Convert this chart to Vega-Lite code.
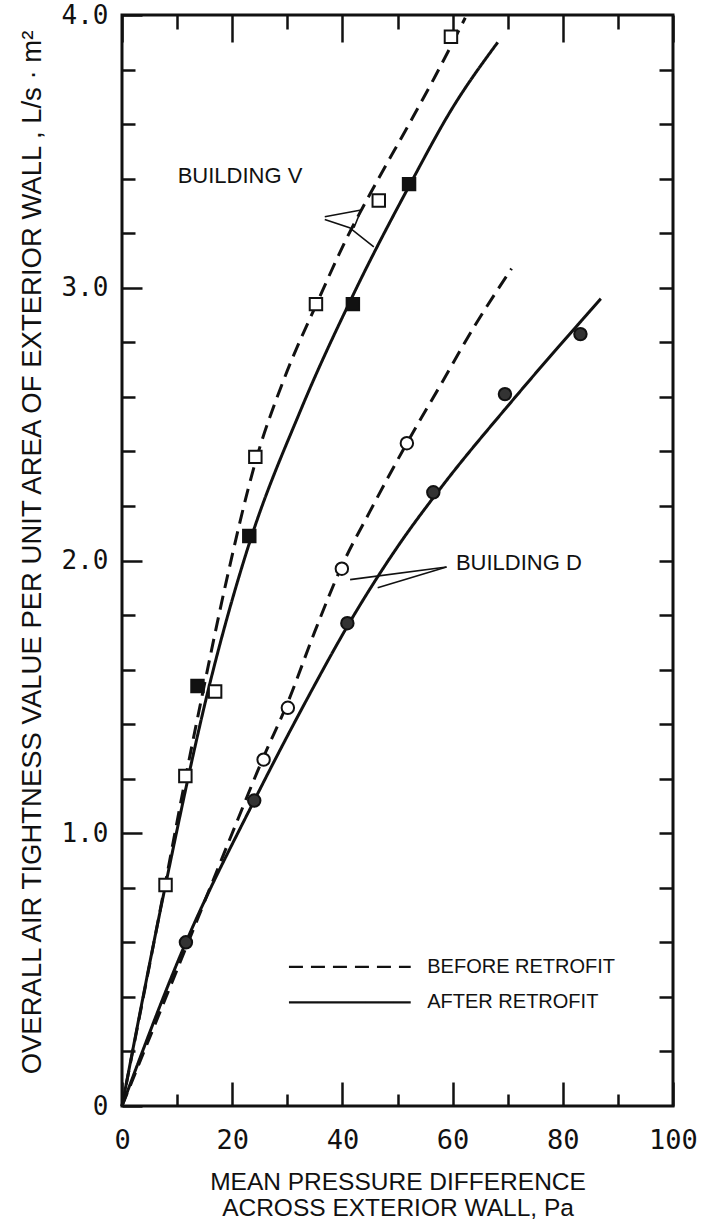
{
  "$schema": "https://vega.github.io/schema/vega-lite/v6.json",
  "width": 551,
  "height": 1091,
  "autosize": {"type": "none"},
  "padding": {"left": 122, "top": 15, "right": 34, "bottom": 116},
  "background": "white",
  "config": {
    "view": {"stroke": "#111", "strokeWidth": 3},
    "axis": {"domain": false, "grid": false, "tickColor": "#111", "tickWidth": 2.5, "labelColor": "#111", "titleColor": "#111"}
  },
  "datasets": {
    "curves": [
      {"curve": "V before", "stage": "before", "x": 0, "y": 0},
      {"curve": "V before", "stage": "before", "x": 7.9, "y": 0.82},
      {"curve": "V before", "stage": "before", "x": 11.5, "y": 1.2},
      {"curve": "V before", "stage": "before", "x": 14.7, "y": 1.52},
      {"curve": "V before", "stage": "before", "x": 19, "y": 1.93},
      {"curve": "V before", "stage": "before", "x": 24.2, "y": 2.36},
      {"curve": "V before", "stage": "before", "x": 29.5, "y": 2.67},
      {"curve": "V before", "stage": "before", "x": 35.3, "y": 2.94},
      {"curve": "V before", "stage": "before", "x": 40.5, "y": 3.17},
      {"curve": "V before", "stage": "before", "x": 46, "y": 3.38},
      {"curve": "V before", "stage": "before", "x": 52.1, "y": 3.6},
      {"curve": "V before", "stage": "before", "x": 56.7, "y": 3.77},
      {"curve": "V before", "stage": "before", "x": 62.3, "y": 3.99},
      {"curve": "V after", "stage": "after", "x": 0, "y": 0},
      {"curve": "V after", "stage": "after", "x": 7.9, "y": 0.81},
      {"curve": "V after", "stage": "after", "x": 16.2, "y": 1.57},
      {"curve": "V after", "stage": "after", "x": 22.9, "y": 2.05},
      {"curve": "V after", "stage": "after", "x": 32.4, "y": 2.55},
      {"curve": "V after", "stage": "after", "x": 42.1, "y": 2.98},
      {"curve": "V after", "stage": "after", "x": 52.3, "y": 3.38},
      {"curve": "V after", "stage": "after", "x": 60, "y": 3.66},
      {"curve": "V after", "stage": "after", "x": 68.2, "y": 3.9},
      {"curve": "D before", "stage": "before", "x": 0, "y": 0},
      {"curve": "D before", "stage": "before", "x": 12, "y": 0.6},
      {"curve": "D before", "stage": "before", "x": 20, "y": 1.0},
      {"curve": "D before", "stage": "before", "x": 25.7, "y": 1.28},
      {"curve": "D before", "stage": "before", "x": 30.1, "y": 1.48},
      {"curve": "D before", "stage": "before", "x": 35, "y": 1.74},
      {"curve": "D before", "stage": "before", "x": 39.9, "y": 1.98},
      {"curve": "D before", "stage": "before", "x": 45, "y": 2.18},
      {"curve": "D before", "stage": "before", "x": 51.7, "y": 2.43},
      {"curve": "D before", "stage": "before", "x": 58, "y": 2.65},
      {"curve": "D before", "stage": "before", "x": 64, "y": 2.86},
      {"curve": "D before", "stage": "before", "x": 70.7, "y": 3.07},
      {"curve": "D after", "stage": "after", "x": 0, "y": 0},
      {"curve": "D after", "stage": "after", "x": 11.6, "y": 0.6},
      {"curve": "D after", "stage": "after", "x": 24, "y": 1.12},
      {"curve": "D after", "stage": "after", "x": 33, "y": 1.47},
      {"curve": "D after", "stage": "after", "x": 42.4, "y": 1.81},
      {"curve": "D after", "stage": "after", "x": 50, "y": 2.05},
      {"curve": "D after", "stage": "after", "x": 58, "y": 2.27},
      {"curve": "D after", "stage": "after", "x": 71, "y": 2.59},
      {"curve": "D after", "stage": "after", "x": 86.9, "y": 2.96}
    ],
    "points": [
      {"series": "V before", "x": 7.9, "y": 0.81},
      {"series": "V before", "x": 11.5, "y": 1.21},
      {"series": "V before", "x": 16.9, "y": 1.52},
      {"series": "V before", "x": 24.2, "y": 2.38},
      {"series": "V before", "x": 35.2, "y": 2.94},
      {"series": "V before", "x": 46.6, "y": 3.32},
      {"series": "V before", "x": 59.7, "y": 3.92},
      {"series": "V after", "x": 13.7, "y": 1.54},
      {"series": "V after", "x": 23.1, "y": 2.09},
      {"series": "V after", "x": 41.9, "y": 2.94},
      {"series": "V after", "x": 52.1, "y": 3.38},
      {"series": "D before", "x": 25.7, "y": 1.27},
      {"series": "D before", "x": 30.1, "y": 1.46},
      {"series": "D before", "x": 39.9, "y": 1.97},
      {"series": "D before", "x": 51.7, "y": 2.43},
      {"series": "D after", "x": 11.6, "y": 0.6},
      {"series": "D after", "x": 24.0, "y": 1.12},
      {"series": "D after", "x": 40.9, "y": 1.77},
      {"series": "D after", "x": 56.5, "y": 2.25},
      {"series": "D after", "x": 69.5, "y": 2.61},
      {"series": "D after", "x": 83.2, "y": 2.83}
    ],
    "leaders": [
      {"leader": "V1", "o": 1, "x": 36.8, "y": 3.26},
      {"leader": "V1", "o": 2, "x": 43.4, "y": 3.285},
      {"leader": "V1", "o": 3, "x": 42.1, "y": 3.22},
      {"leader": "V2", "o": 1, "x": 36.8, "y": 3.25},
      {"leader": "V2", "o": 2, "x": 41.3, "y": 3.22},
      {"leader": "V2", "o": 3, "x": 45.7, "y": 3.15},
      {"leader": "D1", "o": 1, "x": 58.9, "y": 1.976},
      {"leader": "D1", "o": 2, "x": 41.4, "y": 1.93},
      {"leader": "D2", "o": 1, "x": 58.9, "y": 1.976},
      {"leader": "D2", "o": 2, "x": 46.4, "y": 1.9}
    ],
    "labels": [
      {"text": "BUILDING V", "x": 10.1, "y": 3.41},
      {"text": "BUILDING D", "x": 60.6, "y": 1.99}
    ],
    "legendLines": [
      {"stage": "before", "x": 30.3, "y": 0.51},
      {"stage": "before", "x": 52.4, "y": 0.51},
      {"stage": "after", "x": 30.3, "y": 0.38},
      {"stage": "after", "x": 52.4, "y": 0.38}
    ],
    "legendText": [
      {"text": "BEFORE RETROFIT", "x": 55.4, "y": 0.51},
      {"text": "AFTER RETROFIT", "x": 55.4, "y": 0.38}
    ]
  },
  "resolve": {"axis": {"x": "independent", "y": "independent"}},
  "layer": [
    {
      "data": {"name": "curves"},
      "mark": {"type": "line", "interpolate": "monotone", "strokeWidth": 3, "color": "#111"},
      "encoding": {
        "x": {"field": "x", "type": "quantitative", "scale": {"domain": [0, 100], "nice": false},
          "axis": {"orient": "bottom", "values": [0, 20, 40, 60, 80, 100], "tickSize": -24, "labelPadding": 45,
            "labelFont": "DejaVu Sans Mono", "labelFontSize": 27, "labelFlush": false, "labelOverlap": false,
            "title": ["MEAN PRESSURE DIFFERENCE", "ACROSS EXTERIOR WALL,  Pa"], "titleFont": "Liberation Sans",
            "titleFontSize": 24.5, "titleFontWeight": "normal", "titleLineHeight": 26, "titleBaseline": "top", "titleY": 64}},
        "y": {"field": "y", "type": "quantitative", "scale": {"domain": [0, 4], "nice": false},
          "axis": {"orient": "left", "values": [0, 1, 2, 3, 4], "tickSize": -20, "labelPadding": 34,
            "labelFont": "DejaVu Sans Mono", "labelFontSize": 26, "labelFlush": false, "labelOverlap": false,
            "labelExpr": "datum.value === 0 ? '0' : format(datum.value, '.1f')",
            "title": "OVERALL AIR TIGHTNESS VALUE PER UNIT AREA OF EXTERIOR WALL , L/s · m²",
            "titleFont": "Liberation Sans", "titleFontSize": 27.5, "titleFontWeight": "normal",
            "titleX": -90, "titleY": 537, "titleAngle": -90, "titleBaseline": "middle", "titleAlign": "center"}},
        "detail": {"field": "curve"},
        "strokeDash": {"field": "stage", "type": "nominal", "scale": {"domain": ["before", "after"], "range": [[14, 8], [1, 0]]}, "legend": null}
      }
    },
    {
      "data": {"name": "points"},
      "mark": {"type": "point", "stroke": "#111", "strokeWidth": 2, "size": 155, "opacity": 1, "fillOpacity": 1},
      "encoding": {
        "x": {"field": "x", "type": "quantitative", "scale": {"domain": [0, 100], "nice": false},
          "axis": {"orient": "bottom", "values": [10, 30, 50, 70, 90], "tickSize": -12, "labels": false, "title": null}},
        "y": {"field": "y", "type": "quantitative", "scale": {"domain": [0, 4], "nice": false},
          "axis": {"orient": "left", "values": [0.2, 0.4, 0.6, 0.8, 1.2, 1.4, 1.6, 1.8, 2.2, 2.4, 2.6, 2.8, 3.2, 3.4, 3.6, 3.8], "tickSize": -13, "labels": false, "title": null}},
        "shape": {"field": "series", "type": "nominal", "scale": {"domain": ["V before", "V after", "D before", "D after"], "range": ["square", "square", "circle", "circle"]}, "legend": null},
        "fill": {"field": "series", "type": "nominal", "scale": {"domain": ["V before", "V after", "D before", "D after"], "range": ["white", "#111", "white", "#333"]}, "legend": null}
      }
    },
    {
      "data": {"name": "leaders"},
      "mark": {"type": "line", "strokeWidth": 1.6, "color": "#111"},
      "encoding": {
        "x": {"field": "x", "type": "quantitative", "scale": {"domain": [0, 100], "nice": false},
          "axis": {"orient": "top", "values": [0, 20, 40, 60, 80, 100], "tickSize": -27, "labels": false, "title": null}},
        "y": {"field": "y", "type": "quantitative", "scale": {"domain": [0, 4], "nice": false},
          "axis": {"orient": "right", "values": [0.2, 0.4, 0.6, 0.8, 1, 1.2, 1.4, 1.6, 1.8, 2, 2.2, 2.4, 2.6, 2.8, 3, 3.2, 3.4, 3.6, 3.8], "tickSize": -14, "labels": false, "title": null}},
        "detail": {"field": "leader"},
        "order": {"field": "o", "type": "quantitative"}
      }
    },
    {
      "data": {"name": "labels"},
      "mark": {"type": "text", "align": "left", "baseline": "middle", "font": "Liberation Sans", "fontSize": 22, "color": "#111"},
      "encoding": {
        "x": {"field": "x", "type": "quantitative", "scale": {"domain": [0, 100], "nice": false},
          "axis": {"orient": "top", "values": [10, 30, 50, 70, 90], "tickSize": -14, "labels": false, "title": null}},
        "y": {"field": "y", "type": "quantitative", "scale": {"domain": [0, 4], "nice": false}, "axis": null},
        "text": {"field": "text"}
      }
    },
    {
      "data": {"name": "legendLines"},
      "mark": {"type": "line", "strokeWidth": 2.2, "color": "#111"},
      "encoding": {
        "x": {"field": "x", "type": "quantitative", "scale": {"domain": [0, 100], "nice": false}, "axis": null},
        "y": {"field": "y", "type": "quantitative", "scale": {"domain": [0, 4], "nice": false}, "axis": null},
        "detail": {"field": "stage"},
        "strokeDash": {"field": "stage", "type": "nominal", "scale": {"domain": ["before", "after"], "range": [[14, 8], [1, 0]]}, "legend": null}
      }
    },
    {
      "data": {"name": "legendText"},
      "mark": {"type": "text", "align": "left", "baseline": "middle", "font": "Liberation Sans", "fontSize": 20, "color": "#111"},
      "encoding": {
        "x": {"field": "x", "type": "quantitative", "scale": {"domain": [0, 100], "nice": false}, "axis": null},
        "y": {"field": "y", "type": "quantitative", "scale": {"domain": [0, 4], "nice": false}, "axis": null},
        "text": {"field": "text"}
      }
    }
  ]
}
